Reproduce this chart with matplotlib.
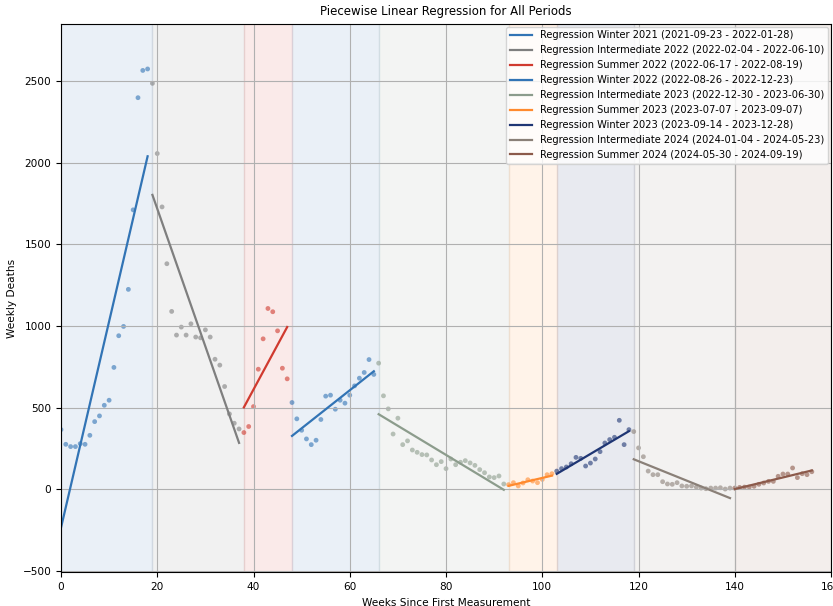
import numpy as np
import matplotlib
matplotlib.use("Agg")
import matplotlib.pyplot as plt

# Weekly deaths per period, week index starts at 0
periods = [
    "Winter 2021 (2021-09-23 - 2022-01-28)",
    "Intermediate 2022 (2022-02-04 - 2022-06-10)",
    "Summer 2022 (2022-06-17 - 2022-08-19)",
    "Winter 2022 (2022-08-26 - 2022-12-23)",
    "Intermediate 2023 (2022-12-30 - 2023-06-30)",
    "Summer 2023 (2023-07-07 - 2023-09-07)",
    "Winter 2023 (2023-09-14 - 2023-12-28)",
    "Intermediate 2024 (2024-01-04 - 2024-05-23)",
    "Summer 2024 (2024-05-30 - 2024-09-19)",
]
start_weeks = [0, 19, 38, 48, 66, 93, 103, 119, 140]
span_edges = [0, 19, 38, 48, 66, 93, 103, 119, 140, 160]

winter_2021 = [366, 276, 262, 262, 280, 276, 331, 415, 450, 515, 546, 747, 941,
               998, 1225, 1712, 2399, 2566, 2575]
inter_2022 = [2487, 2057, 1730, 1382, 1090, 945, 994, 945, 1014, 933, 928, 977,
              933, 797, 761, 630, 462, 405, 370]
summer_2022 = [348, 385, 507, 736, 922, 1108, 1088, 971, 742, 677]
winter_2022 = [532, 432, 362, 309, 274, 301, 428, 571, 577, 491, 546, 528, 577,
               634, 681, 716, 795, 704]
inter_2023 = [773, 573, 493, 339, 436, 274, 297, 241, 227, 213, 211, 180, 151,
              170, 127, 186, 151, 166, 176, 162, 147, 121, 102, 76, 72, 82, 33]
summer_2023 = [29, 41, 21, 39, 59, 51, 41, 61, 90, 96]
winter_2023 = [112, 127, 137, 157, 196, 190, 143, 161, 186, 231, 284, 305, 319,
               423, 274, 366]
inter_2024 = [354, 254, 200, 112, 90, 90, 47, 33, 31, 41, 21, 19, 21, 14, 8, 4,
              8, 8, 10, 2, 8]
summer_2024 = [8, 12, 14, 14, 19, 31, 39, 49, 49, 80, 94, 94, 131, 72, 96, 90, 108]

series = [winter_2021, inter_2022, summer_2022, winter_2022, inter_2023,
          summer_2023, winter_2023, inter_2024, summer_2024]
colors = ['#3274b5', '#7f7f7f', '#d03a2f', '#3274b5', '#8c9c8c',
          '#ff8a2e', '#1f3674', '#8a8078', '#8c5a4b']

plt.rcParams['font.size'] = 7.6
fig = plt.figure(figsize=(8.33, 6.06), dpi=100)
ax = fig.add_axes([0.0732, 0.0556, 0.9245, 0.9055])

for i in range(len(series)):
    ax.axvspan(span_edges[i], span_edges[i + 1], color=colors[i], alpha=0.1)

for name, start, y, c in zip(periods, start_weeks, series, colors):
    x = np.arange(start, start + len(y))
    y = np.array(y)
    ax.scatter(x, y, color=c, s=12, alpha=0.6, edgecolors='none')
    slope, intercept = np.polyfit(x, y, 1)
    ax.plot(x, slope * x + intercept, color=c, lw=1.6,
            label=f"Regression {name}")

ax.set_xlim(0, 160)
ax.set_ylim(-508, 2853)
ax.grid(True, color='#b0b0b0', lw=0.8)
ax.set_title("Piecewise Linear Regression for All Periods", fontsize=8.5)
ax.set_xlabel("Weeks Since First Measurement")
ax.set_ylabel("Weekly Deaths")
ax.legend(loc='upper right', fontsize=7.1, borderaxespad=0.3, handlelength=2.2)

fig.savefig("out.png", dpi=100)
